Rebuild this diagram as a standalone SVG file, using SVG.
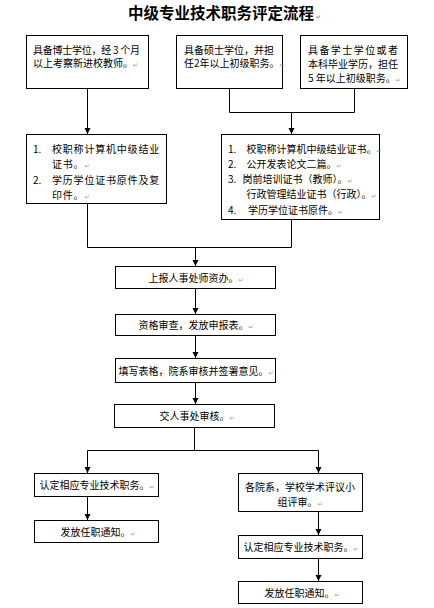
<svg xmlns="http://www.w3.org/2000/svg" width="434" height="608" viewBox="0 0 434 608">
<style>
.b{fill:#fff;stroke:#000;stroke-width:1}
.t{font-family:"Noto Sans CJK SC","Noto Sans",sans-serif;font-size:10px;fill:#000}
.c{text-anchor:middle}
.pm{font-family:"DejaVu Sans",sans-serif;font-size:6px;fill:#999}
.ttl{font-family:"Noto Sans CJK SC",sans-serif;font-size:15.5px;font-weight:bold;fill:#000}
.ln{fill:none;stroke:#000;stroke-width:1}
.ar{fill:none;stroke:#000;stroke-width:1;marker-end:url(#ah)}
</style>
<defs>
<marker id="ah" markerUnits="userSpaceOnUse" markerWidth="7" markerHeight="7" refX="6" refY="3.5" orient="auto">
<path d="M0,0.5 L6,3.5 L0,6.5 z" fill="#000"/>
</marker>
</defs>
<rect width="434" height="608" fill="#fff"/>
<g id="title"><text class="ttl" x="128" y="18.5">中级专业技术职务评定流程<tspan class="pm" dx="2">↵</tspan></text></g>

<g id="connectors">
<path class="ar" d="M87.5,88.5 V134"/>
<path class="ln" d="M229.5,88.5 V112.5 H354.5 V88.5"/>
<path class="ar" d="M291.5,112.5 V134"/>
<path class="ln" d="M87.5,203.5 V247.5 H291.5 V219.5"/>
<path class="ar" d="M195.5,247.5 V266"/>
<path class="ar" d="M195.5,288.5 V314"/>
<path class="ar" d="M195.5,335.5 V358"/>
<path class="ar" d="M195.5,382.5 V404"/>
<path class="ln" d="M194.5,427.5 V450.5"/>
<path class="ln" d="M87.5,450.5 H318.5"/>
<path class="ar" d="M87.5,450.5 V473"/>
<path class="ar" d="M318.5,450.5 V473"/>
<path class="ar" d="M87.5,496.5 V520"/>
<path class="ar" d="M318.5,511.5 V535"/>
<path class="ar" d="M318.5,558.5 V581"/>
</g>

<g id="n1"><rect class="b" x="26.5" y="35.5" width="122" height="53"/>
<text class="t" x="33" y="53.5" textLength="107">具备博士学位，经 3 个月</text>
<text class="t" x="33" y="67">以上考察新进校教师。<tspan class="pm">↵</tspan></text></g>

<g id="n2"><rect class="b" x="176.5" y="35.5" width="106" height="53"/>
<text class="t" x="184" y="53.5">具备硕士学位，并担</text>
<text class="t" x="184" y="67">任2年以上初级职务。<tspan class="pm">↵</tspan></text></g>

<g id="n3"><rect class="b" x="300.5" y="35.5" width="107" height="53"/>
<text class="t" x="308" y="53.5" textLength="90">具备学士学位或者</text>
<text class="t" x="308" y="67.5">本科毕业学历，担任</text>
<text class="t" x="308" y="82">5 年以上初级职务。<tspan class="pm">↵</tspan></text></g>

<g id="n4"><rect class="b" x="26.5" y="134.5" width="140" height="69"/>
<text class="t" x="33" y="152.5">1.</text><text class="t" x="52" y="152.5" letter-spacing="0.8">校职称计算机中级结业</text>
<text class="t" x="52" y="168" letter-spacing="0.8">证书。<tspan class="pm">↵</tspan></text>
<text class="t" x="33" y="184">2.</text><text class="t" x="52" y="184" letter-spacing="0.8">学历学位证书原件及复</text>
<text class="t" x="52" y="198.5" letter-spacing="0.8">印件。<tspan class="pm">↵</tspan></text></g>

<g id="n5"><rect class="b" x="221.5" y="134.5" width="158" height="85"/>
<text class="t" x="228" y="152.5">1.</text><text class="t" x="246.5" y="152.5">校职称计算机中级结业证书。<tspan class="pm">↵</tspan></text>
<text class="t" x="228" y="167.5">2.</text><text class="t" x="246.5" y="167.5">公开发表论文二篇。<tspan class="pm">↵</tspan></text>
<text class="t" x="228" y="182.5">3.</text><text class="t" x="242.5" y="182.5">岗前培训证书（教师）。<tspan class="pm">↵</tspan></text>
<text class="t" x="246.5" y="197.5">行政管理结业证书（行政）。<tspan class="pm">↵</tspan></text>
<text class="t" x="228" y="213.5">4.</text><text class="t" x="248" y="213.5">学历学位证书原件。<tspan class="pm">↵</tspan></text></g>

<g id="n6"><rect class="b" x="115.5" y="266.5" width="160" height="22"/>
<text class="t c" x="196" y="281.5">上报人事处师资办。<tspan class="pm">↵</tspan></text></g>

<g id="n7"><rect class="b" x="115.5" y="314.5" width="160" height="21"/>
<text class="t c" x="196" y="329">资格审查，发放申报表。<tspan class="pm">↵</tspan></text></g>

<g id="n8"><rect class="b" x="115.5" y="358.5" width="160" height="24"/>
<text class="t c" x="196" y="374.5">填写表格，院系审核并签署意见。<tspan class="pm">↵</tspan></text></g>

<g id="n9"><rect class="b" x="114.5" y="404.5" width="160" height="23"/>
<text class="t c" x="197" y="419.5">交人事处审核。<tspan class="pm">↵</tspan></text></g>

<g id="n10"><rect class="b" x="34.5" y="473.5" width="124" height="23"/>
<text class="t c" x="97" y="488.5">认定相应专业技术职务。<tspan class="pm">↵</tspan></text></g>

<g id="n11"><rect class="b" x="34.5" y="520.5" width="124" height="22"/>
<text class="t c" x="98" y="535.5">发放任职通知。<tspan class="pm">↵</tspan></text></g>

<g id="n12"><rect class="b" x="238.5" y="473.5" width="124" height="38"/>
<text class="t c" x="300" y="491">各院系，学校学术评议小</text>
<text class="t c" x="300" y="505.5">组评审。<tspan class="pm">↵</tspan></text></g>

<g id="n13"><rect class="b" x="238.5" y="535.5" width="124" height="23"/>
<text class="t c" x="301" y="550.5">认定相应专业技术职务。<tspan class="pm">↵</tspan></text></g>

<g id="n14"><rect class="b" x="238.5" y="581.5" width="124" height="22"/>
<text class="t c" x="302" y="596.5">发放任职通知。<tspan class="pm">↵</tspan></text></g>
</svg>
